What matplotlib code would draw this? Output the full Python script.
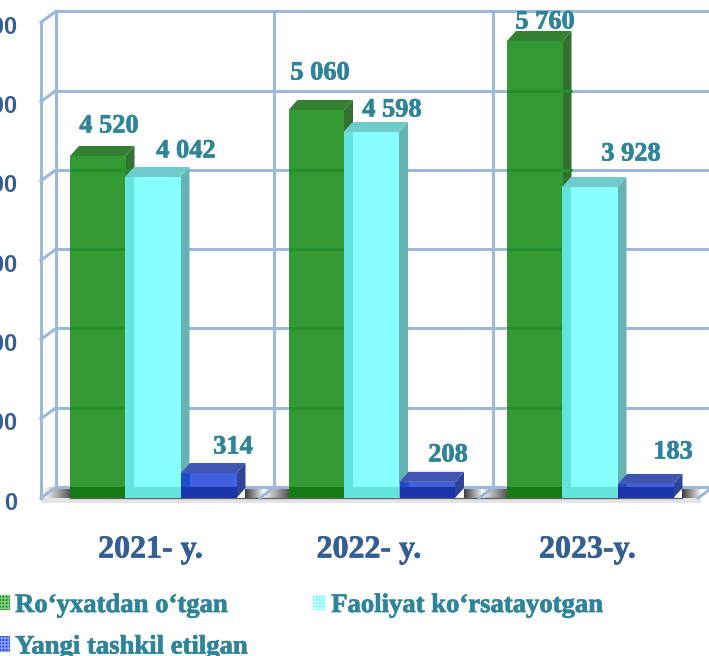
import matplotlib
matplotlib.use('Agg')
import matplotlib.pyplot as plt
from matplotlib.patches import Polygon, Patch
import matplotlib.patheffects as pe
import numpy as np

years = ['2021- y.', '2022- y.', '2023-y.']
registered_labels = ['4 520', '5 060', '5 760']
active_labels = ['4 042', '4 598', '3 928']
new_labels = ['314', '208', '183']
# bar heights as drawn in the picture (green ones do not follow their labels)
registered = [4313, 4893, 5763]
active = [4048, 4615, 3922]
new = [315, 204, 177]
ticks = [0, 1000, 2000, 3000, 4000, 5000, 6000]
tick_labels = ['0', '1 000', '2 000', '3 000', '4 000', '5 000', '6 000']
series_names = ['Ro\u2018yxatdan o\u2018tgan', 'Yangi tashkil etilgan', 'Faoliyat ko\u2018rsatayotgan']

# label centres in pixels, the labels were placed by hand in the original
registered_pos = [(109, 126), (320, 73), (545, 22)]
active_pos = [(186, 151), (392, 110), (631, 154)]
new_pos = [(233, 447), (448, 455), (673, 452)]

PX_X = 218.5      # pixels per category
PX_Y = 0.0793     # pixels per unit
X0 = 153.0
Y0 = 498.0
W, H = 709, 656

def ux(p):
    return p / PX_X

def uy(p):
    return p / PX_Y

def xpx(p):
    return (p - X0) / PX_X

def ypx(p):
    return (Y0 - p) / PX_Y

plt.rcParams['font.family'] = ['Liberation Serif', 'DejaVu Serif']
fig = plt.figure(figsize=(7.09, 6.56), dpi=100)
ax = fig.add_axes([0, 0, 1, 1])
xlim = (xpx(0), xpx(W))
ylim = (ypx(H), ypx(0))

GRID = '#9DB8DB'
BLUE_TEXT = '#355F93'
TEAL_TEXT = '#2F8499'
bw = ux(55.5)
dx = ux(9)
dy = uy(10)
wall_dy = uy(11)

def heavy(c):
    return [pe.withStroke(linewidth=0.5, foreground=c)]

# floor
ax.fill_between([xpx(41), xpx(701)], ypx(503), ypx(498), color='#E4E4E4', zorder=1, lw=0)
ax.plot([xpx(70), xpx(682)], [ypx(498), ypx(498)], color='#666666', lw=1, zorder=1.5)
grad = np.linspace(0, 1, 64).reshape(1, -1)
for i in range(3):
    left = xpx(X0 + i * PX_X - 83 - 26)
    right = xpx(X0 + i * PX_X - 83)
    ax.imshow(grad[:, ::-1], extent=(left, right, ypx(498), ypx(487)), aspect='auto',
              cmap='gray', vmin=-0.5, vmax=1, zorder=1)
    left = xpx(X0 + i * PX_X + 92)
    right = xpx(X0 + i * PX_X + 92 + 20)
    ax.imshow(grad, extent=(left, right, ypx(498), ypx(487)), aspect='auto',
              cmap='gray', vmin=-0.3, vmax=1, zorder=1)

# walls and gridlines
for t in ticks:
    ax.plot([xpx(56), xpx(715)], [t + wall_dy, t + wall_dy], color=GRID, lw=2.2, zorder=2,
            solid_capstyle='butt')
    ax.plot([xpx(41), xpx(56)], [t, t + wall_dy], color=GRID, lw=2.2, zorder=2)
ax.plot([xpx(41), xpx(41)], [0, 6000], color=GRID, lw=2.2, zorder=2)
for p in [56, 274, 493, 712]:
    ax.plot([xpx(p), xpx(p)], [wall_dy, 6000 + wall_dy], color=GRID, lw=2.2, zorder=2)
for p in [260, 479, 698]:
    ax.plot([xpx(p), xpx(p + 15)], [0, wall_dy], color=GRID, lw=2.2, zorder=2)


def draw_bar(x, h, front, band, strip, side, top, z):
    left = x
    ax.add_patch(Polygon([(left + bw, 0), (left + bw + dx, dy), (left + bw + dx, h + dy), (left + bw, h)],
                         facecolor=side, lw=0, zorder=z))
    ax.add_patch(Polygon([(left, h), (left + dx, h + dy), (left + bw + dx, h + dy), (left + bw, h)],
                         facecolor=top, lw=0, zorder=z))
    ax.bar(left, h, bw, align='edge', color=front, lw=0, zorder=z)
    ax.bar(left, h, dx, align='edge', color=strip, lw=0, zorder=z + 0.1)
    ax.bar(left, min(h, wall_dy), bw, align='edge', color=band, lw=0, zorder=z + 0.2)


offsets = [-83, -28, 28]
for i in range(3):
    cx = i
    x_g = cx + ux(offsets[0])
    x_c = cx + ux(offsets[1])
    x_b = cx + ux(offsets[2])
    draw_bar(x_g, registered[i], '#339933', '#157A15', '#339933', '#337130', '#338033', 3)
    for t in ticks[1:]:
        if t + wall_dy < registered[i]:
            ax.plot([x_g, x_g + bw + dx], [t + wall_dy, t + wall_dy], color='#25902B', lw=2.2,
                    zorder=3.5, solid_capstyle='butt')
    draw_bar(x_c, active[i], '#88FFFF', '#63E5DD', '#63E5DD', '#66B3B3', '#70CCCC', 4)
    draw_bar(x_b, new[i], '#4060DD', '#1A35AA', '#1A50CC', '#2F4499', '#3F55B0', 5)

    for lab, pos in [(registered_labels[i], registered_pos[i]),
                     (active_labels[i], active_pos[i]),
                     (new_labels[i], new_pos[i])]:
        ax.text(xpx(pos[0]), ypx(pos[1]), lab, ha='center', va='center',
                fontsize=19, fontweight='bold', color=TEAL_TEXT, zorder=8,
                path_effects=heavy(TEAL_TEXT))
    ax.text(cx - ux(2.5), ypx(550), years[i], ha='center', va='center',
            fontsize=23, fontweight='bold', color=BLUE_TEXT, path_effects=heavy(BLUE_TEXT))

for t, lab in zip(ticks, tick_labels):
    ax.text(xpx(17), t - uy(5), lab, ha='right', va='center', fontsize=17, fontweight='bold',
            color=BLUE_TEXT, family=['Liberation Sans'])

handles = [Patch(facecolor='#1E8C1E', edgecolor='#7FD07F', hatch='+++++', lw=0),
           Patch(facecolor='#2244DD', edgecolor='#88A0FF', hatch='+++++', lw=0),
           Patch(facecolor='#66FFFF', edgecolor='#CCFFFF', hatch='+++++', lw=0)]
leg = ax.legend(handles, series_names, ncol=2, frameon=False, loc='upper left',
                bbox_to_anchor=(-0.005, 0.096), labelcolor=TEAL_TEXT,
                prop={'weight': 'bold', 'size': 19.2}, handlelength=0.5, handleheight=0.5,
                handletextpad=0.2, columnspacing=2.44, labelspacing=0.62, borderpad=0, borderaxespad=0)
for t in leg.get_texts():
    t.set_path_effects(heavy(TEAL_TEXT))

ax.set_xlim(xlim)
ax.set_ylim(ylim)
ax.axis('off')
fig.savefig('out.png', dpi=100, facecolor='white')
